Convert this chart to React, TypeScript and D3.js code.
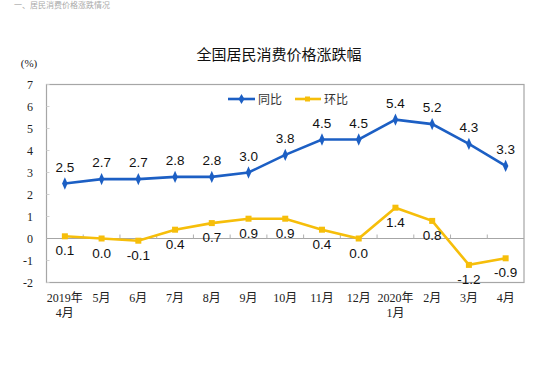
import React, { useEffect, useRef } from 'react';
import * as d3 from 'd3';

// months on the category axis (second line only where the year changes)
const months = ['2019年', '5月', '6月', '7月', '8月', '9月', '10月', '11月', '12月', '2020年', '2月', '3月', '4月'];
const monthsLine2 = ['4月', '', '', '', '', '', '', '', '', '1月', '', '', ''];
const yoy = [2.5, 2.7, 2.7, 2.8, 2.8, 3.0, 3.8, 4.5, 4.5, 5.4, 5.2, 4.3, 3.3];
const mom = [0.1, 0.0, -0.1, 0.4, 0.7, 0.9, 0.9, 0.4, 0.0, 1.4, 0.8, -1.2, -0.9];
const yTicks = [-2, -1, 0, 1, 2, 3, 4, 5, 6, 7];

const BLUE = '#1c5fc4';
const YELLOW = '#f6be0a';
const SERIF = '"Liberation Serif", "Noto Sans CJK SC", serif';
const SANS = '"Liberation Sans", Arial, sans-serif';

function App() {
  const ref = useRef<SVGSVGElement>(null);

  useEffect(() => {
    const svg = d3.select(ref.current);
    svg.selectAll('*').remove();

    const left = 46.5, right = 524, top = 84.5, bottom = 282.5;

    const x = d3.scaleBand().domain(months.map((_, i) => String(i))).range([left, right]);
    const y = d3.scaleLinear().domain([-2, 7]).range([bottom, top]);
    const cx = (i: number) => x(String(i))! + x.bandwidth() / 2;

    svg.append('rect').attr('width', 550).attr('height', 370).attr('fill', '#fff');

    // faint heading at the very top
    svg.append('text')
      .attr('x', 14).attr('y', 8)
      .attr('font-family', SERIF).attr('font-size', 8).attr('fill', '#aaa')
      .text('一、居民消费价格涨跌情况');

    // title
    svg.append('text')
      .attr('x', 279).attr('y', 60)
      .attr('text-anchor', 'middle')
      .attr('font-family', '"Noto Sans CJK SC", sans-serif')
      .attr('font-size', 15).attr('fill', '#111')
      .text('全国居民消费价格涨跌幅');

    svg.append('text')
      .attr('x', 29).attr('y', 67)
      .attr('text-anchor', 'middle')
      .attr('font-family', SERIF).attr('font-size', 11).attr('fill', '#222')
      .text('(%)');

    // plot box
    svg.append('rect')
      .attr('x', left).attr('y', top)
      .attr('width', right - left).attr('height', bottom - top)
      .attr('fill', 'none').attr('stroke', '#a6a6a6').attr('stroke-width', 1.2);

    // y axis labels + small inside ticks
    svg.append('g').selectAll('text').data(yTicks).enter().append('text')
      .attr('x', 33).attr('y', (d) => y(d) + 4)
      .attr('text-anchor', 'end')
      .attr('font-family', SERIF).attr('font-size', 12).attr('fill', '#222')
      .text((d) => d);

    svg.append('g').selectAll('line').data(yTicks).enter().append('line')
      .attr('x1', left).attr('x2', left + 3)
      .attr('y1', (d) => y(d)).attr('y2', (d) => y(d))
      .attr('stroke', '#d0d0d0');

    // zero line with category ticks
    svg.append('line')
      .attr('x1', left).attr('x2', right)
      .attr('y1', y(0)).attr('y2', y(0))
      .attr('stroke', '#a6a6a6').attr('stroke-width', 1.2);

    svg.append('g').selectAll('line').data(months.slice(1)).enter().append('line')
      .attr('x1', (_, i) => x(String(i + 1))!).attr('x2', (_, i) => x(String(i + 1))!)
      .attr('y1', y(0)).attr('y2', y(0) - 4)
      .attr('stroke', '#b0b0b0');

    // x labels
    const xl = svg.append('g')
      .attr('font-family', SERIF).attr('font-size', 12).attr('fill', '#222')
      .attr('text-anchor', 'middle');
    xl.selectAll('text.l1').data(months).enter().append('text')
      .attr('class', 'l1')
      .attr('x', (_, i) => cx(i)).attr('y', 302)
      .text((d) => d);
    xl.selectAll('text.l2').data(monthsLine2).enter().append('text')
      .attr('class', 'l2')
      .attr('x', (_, i) => cx(i)).attr('y', 317)
      .text((d) => d);

    const line = d3.line<number>().x((_, i) => cx(i)).y((d) => y(d));

    // 同比
    svg.append('path').datum(yoy)
      .attr('d', line).attr('fill', 'none')
      .attr('stroke', BLUE).attr('stroke-width', 2.6);
    svg.append('g').selectAll('path').data(yoy).enter().append('path')
      .attr('d', d3.symbol(d3.symbolDiamond, 36)())
      .attr('transform', (d, i) => `translate(${cx(i)},${y(d)}) scale(0.85,1.1)`)
      .attr('fill', BLUE);

    // 环比
    svg.append('path').datum(mom)
      .attr('d', line).attr('fill', 'none')
      .attr('stroke', YELLOW).attr('stroke-width', 2.6);
    svg.append('g').selectAll('rect').data(mom).enter().append('rect')
      .attr('x', (_, i) => cx(i) - 3).attr('y', (d) => y(d) - 3)
      .attr('width', 6).attr('height', 6)
      .attr('fill', YELLOW);

    // data labels
    const lab = svg.append('g')
      .attr('font-family', SANS).attr('font-size', 13.5).attr('fill', '#111')
      .attr('text-anchor', 'middle');
    lab.selectAll('text.yoy').data(yoy).enter().append('text')
      .attr('class', 'yoy')
      .attr('x', (_, i) => cx(i)).attr('y', (d) => y(d) - 12)
      .text((d) => d.toFixed(1));
    lab.selectAll('text.mom').data(mom).enter().append('text')
      .attr('class', 'mom')
      .attr('x', (_, i) => cx(i)).attr('y', (d) => y(d) + 19)
      .text((d) => d.toFixed(1));

    // legend
    const lg = svg.append('g').attr('transform', 'translate(0,99)');
    lg.append('line').attr('x1', 228).attr('x2', 255).attr('stroke', BLUE).attr('stroke-width', 2.6);
    lg.append('path').attr('d', d3.symbol(d3.symbolDiamond, 30)())
      .attr('transform', 'translate(241.5,0)').attr('fill', BLUE);
    lg.append('text').attr('x', 258).attr('y', 4.5)
      .attr('font-family', '"Noto Sans CJK SC", sans-serif').attr('font-size', 12).attr('fill', '#333')
      .text('同比');
    lg.append('line').attr('x1', 295).attr('x2', 321).attr('stroke', YELLOW).attr('stroke-width', 2.6);
    lg.append('rect').attr('x', 305).attr('y', -2.5).attr('width', 5).attr('height', 5).attr('fill', YELLOW);
    lg.append('text').attr('x', 324).attr('y', 4.5)
      .attr('font-family', '"Noto Sans CJK SC", sans-serif').attr('font-size', 12).attr('fill', '#333')
      .text('环比');
  }, []);

  return (
    <svg
      ref={ref}
      width={550}
      height={370}
      style={{ position: 'absolute', left: 0, top: 0, display: 'block' }}
    />
  );
}

export default App;
